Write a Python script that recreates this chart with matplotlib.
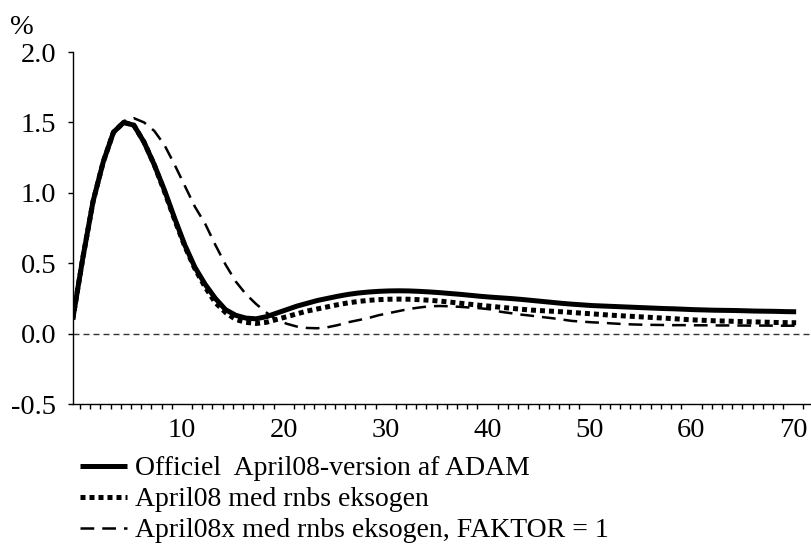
import numpy as np
import matplotlib
matplotlib.use("Agg")
import matplotlib.pyplot as plt
from matplotlib.ticker import FixedLocator, NullFormatter

plt.rcParams['font.family'] = ['Liberation Serif', 'DejaVu Serif']
plt.rcParams['axes.unicode_minus'] = False

# ---------------- data ----------------
periods = np.arange(0, 72)

officiel = [
    0.10, 0.54, 0.94, 1.22, 1.43, 1.50, 1.48, 1.36, 1.20, 1.02,
    0.82, 0.63, 0.47, 0.35, 0.25, 0.17, 0.13, 0.11, 0.105, 0.12,
    0.145, 0.17, 0.195, 0.215, 0.235, 0.25, 0.265, 0.278, 0.288, 0.295,
    0.30, 0.303, 0.304, 0.303, 0.30, 0.296, 0.291, 0.285, 0.279, 0.272,
    0.265, 0.259, 0.254, 0.249, 0.243, 0.236, 0.229, 0.222, 0.215, 0.209,
    0.204, 0.199, 0.196, 0.193, 0.190, 0.187, 0.184, 0.181, 0.178, 0.176,
    0.173, 0.170, 0.168, 0.166, 0.165, 0.164, 0.162, 0.160, 0.159, 0.158,
    0.156, 0.155,
]

rnbs_eksogen = [
    0.10, 0.54, 0.94, 1.22, 1.43, 1.50, 1.48, 1.36, 1.20, 1.01,
    0.81, 0.62, 0.46, 0.33, 0.22, 0.15, 0.10, 0.08, 0.072, 0.08,
    0.10, 0.12, 0.14, 0.16, 0.175, 0.19, 0.205, 0.218, 0.228, 0.236,
    0.241, 0.244, 0.245, 0.244, 0.241, 0.237, 0.231, 0.224, 0.216, 0.208,
    0.201, 0.194, 0.187, 0.180, 0.173, 0.167, 0.163, 0.159, 0.155, 0.150,
    0.145, 0.140, 0.135, 0.130, 0.126, 0.122, 0.118, 0.114, 0.110, 0.106,
    0.101, 0.097, 0.094, 0.091, 0.089, 0.087, 0.085, 0.083, 0.081, 0.079,
    0.078, 0.077,
]

faktor1 = [
    0.10, 0.54, 0.94, 1.22, 1.43, 1.51, 1.53, 1.50, 1.44, 1.34,
    1.20, 1.05, 0.90, 0.78, 0.63, 0.49, 0.37, 0.28, 0.21, 0.15,
    0.10, 0.07, 0.05, 0.04, 0.038, 0.045, 0.06, 0.08, 0.095, 0.11,
    0.13, 0.145, 0.16, 0.175, 0.185, 0.194, 0.196, 0.194, 0.19, 0.185,
    0.18, 0.172, 0.155, 0.145, 0.135, 0.127, 0.118, 0.11, 0.10, 0.09,
    0.085, 0.08, 0.077, 0.072, 0.068, 0.065, 0.063, 0.062, 0.061, 0.060,
    0.060, 0.059, 0.059, 0.058, 0.058, 0.058, 0.057, 0.057, 0.057, 0.056,
    0.056, 0.056,
]

labels = [
    "Officiel  April08-version af ADAM",
    "April08 med rnbs eksogen",
    "April08x med rnbs eksogen, FAKTOR = 1",
]

xtick_values = [10, 20, 30, 40, 50, 60, 70]
ytick_values = [-0.5, 0.0, 0.5, 1.0, 1.5, 2.0]
y_unit = "%"

# ---------------- figure ----------------
FS = 20.5
LFS = 20
TICK_SHIFT = 0.72  # category ticks/labels sit slightly right of the data points

fig = plt.figure(figsize=(8.11, 5.44), dpi=100)
ax = fig.add_axes([72.7 / 811, 140 / 544, 737.3 / 811, 352 / 544])

ax.axhline(0.0, color='#333333', lw=1.0, ls=(0, (4.3, 2.9)), zorder=1)

l1, = ax.plot(periods, officiel, color='black', lw=3.6, solid_capstyle='butt',
              solid_joinstyle='round', zorder=3)
l2, = ax.plot(periods, rnbs_eksogen, color='black', lw=3.6,
              ls=(0, (1.0, 0.8)), dash_capstyle='butt', zorder=4)
l3, = ax.plot(periods, faktor1, color='black', lw=1.8,
              ls=(0, (5.5, 3.2)), dash_capstyle='butt', zorder=5)

ax.set_xlim(0, 72.36)
ax.set_ylim(-0.5, 2.0)

ax.spines['top'].set_visible(False)
ax.spines['right'].set_visible(False)
for s in ('left', 'bottom'):
    ax.spines[s].set_linewidth(1.0)
    ax.spines[s].set_color('black')

ax.set_yticks(ytick_values)
ax.set_yticklabels([f"{v:.1f}" for v in ytick_values])
ax.tick_params(axis='y', which='major', direction='out', length=3.8, width=1.0,
               pad=8, labelsize=FS)

ax.xaxis.set_major_locator(FixedLocator(np.array(xtick_values) + TICK_SHIFT))
ax.set_xticklabels([str(v) for v in xtick_values])
ax.xaxis.set_minor_locator(FixedLocator(np.arange(0, 73) + TICK_SHIFT))
ax.xaxis.set_minor_formatter(NullFormatter())
ax.tick_params(axis='x', which='major', length=0, pad=10, labelsize=FS)
ax.tick_params(axis='x', which='minor', direction='out', length=3.8, width=1.0)

fig.text(22 / 811, 1 - 28 / 544, y_unit, ha='center', va='center', fontsize=FS)

fig.legend([l1, l2, l3], labels, loc='upper left',
           bbox_to_anchor=(80 / 811, 1 - 456 / 544), frameon=False,
           fontsize=LFS, handlelength=1.69, handletextpad=0.28,
           labelspacing=0.2, borderpad=0, borderaxespad=0)

fig.savefig("out.png", dpi=100)
